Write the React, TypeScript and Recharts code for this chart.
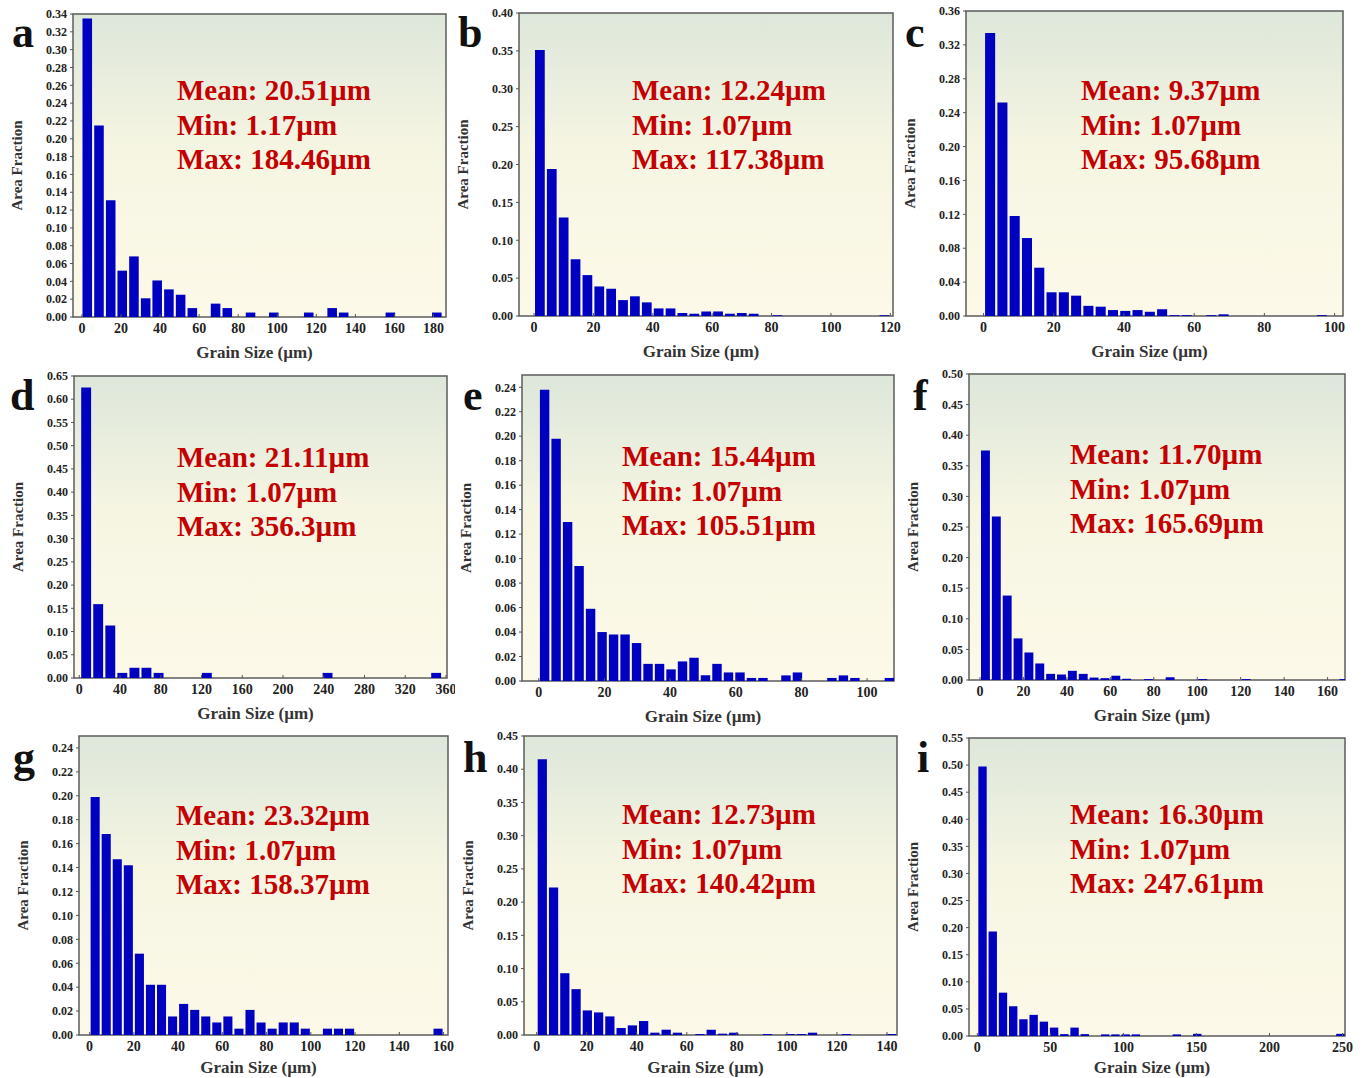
import React from 'react';
import { BarChart, Bar, XAxis, YAxis, CartesianGrid, ReferenceArea } from 'recharts';

// grain-size histograms: bin centre (µm) and area fraction of each non-empty bin
const aSize = [2.7, 8.7, 14.7, 20.6, 26.6, 32.6, 38.5, 44.5, 50.5, 56.5, 68.4, 74.4, 86.3, 98.2, 116.1, 128.1, 134.0, 157.9, 181.7];
const aFrac = [0.335, 0.215, 0.131, 0.052, 0.068, 0.021, 0.041, 0.031, 0.025, 0.010, 0.015, 0.010, 0.005, 0.005, 0.005, 0.010, 0.005, 0.005, 0.005];

const bSize = [2, 6, 10, 14, 18, 22, 26, 30, 34, 38, 42, 46, 50, 54, 58, 62, 66, 70, 74, 82, 118];
const bFrac = [0.351, 0.194, 0.130, 0.075, 0.054, 0.039, 0.036, 0.021, 0.026, 0.018, 0.010, 0.010, 0.004, 0.003, 0.006, 0.006, 0.003, 0.004, 0.003, 0.001, 0.001];

const cSize = [1.9, 5.4, 8.9, 12.4, 15.9, 19.4, 22.9, 26.4, 29.9, 33.4, 36.9, 40.4, 43.9, 47.4, 50.9, 54.4, 57.9, 64.9, 68.4, 96.4];
const cFrac = [0.334, 0.252, 0.118, 0.092, 0.057, 0.028, 0.028, 0.024, 0.012, 0.011, 0.007, 0.006, 0.007, 0.005, 0.008, 0.001, 0.001, 0.001, 0.002, 0.001];

const dSize = [6.8, 18.6, 30.5, 42.3, 54.2, 66.0, 77.9, 125.3, 243.8, 350.4];
const dFrac = [0.625, 0.159, 0.113, 0.011, 0.022, 0.022, 0.011, 0.011, 0.011, 0.011];

const eSize = [1.8, 5.3, 8.8, 12.3, 15.8, 19.3, 22.8, 26.3, 29.8, 33.3, 36.8, 40.3, 43.8, 47.3, 50.8, 54.3, 57.8, 61.3, 64.8, 68.3, 75.3, 78.8, 89.3, 92.8, 96.3, 106.8];
const eFrac = [0.238, 0.198, 0.130, 0.094, 0.059, 0.040, 0.038, 0.038, 0.031, 0.014, 0.014, 0.0095, 0.016, 0.019, 0.0046, 0.014, 0.007, 0.007, 0.0025, 0.0025, 0.0046, 0.007, 0.0025, 0.0046, 0.0025, 0.0025];

const fSize = [2.5, 7.5, 12.5, 17.5, 22.5, 27.5, 32.5, 37.5, 42.5, 47.5, 52.5, 57.5, 62.5, 67.5, 77.5, 87.5, 102.5, 122.5, 167.5];
const fFrac = [0.375, 0.267, 0.138, 0.068, 0.045, 0.027, 0.010, 0.009, 0.015, 0.010, 0.004, 0.003, 0.007, 0.002, 0.0015, 0.0045, 0.0015, 0.0015, 0.0015];

const gSize = [2.5, 7.5, 12.5, 17.5, 22.5, 27.5, 32.5, 37.5, 42.5, 47.5, 52.5, 57.5, 62.5, 67.5, 72.5, 77.5, 82.5, 87.5, 92.5, 97.5, 107.5, 112.5, 117.5, 157.5];
const gFrac = [0.199, 0.168, 0.147, 0.142, 0.068, 0.042, 0.042, 0.0155, 0.026, 0.021, 0.0155, 0.0105, 0.0155, 0.0053, 0.021, 0.0105, 0.0053, 0.0105, 0.0105, 0.0053, 0.0053, 0.0053, 0.0053, 0.0053];

const hSize = [2.25, 6.75, 11.25, 15.75, 20.25, 24.75, 29.25, 33.75, 38.25, 42.75, 47.25, 51.75, 56.25, 65.25, 69.75, 74.25, 78.75, 92.25, 101.25, 105.75, 110.25, 123.75, 141.75];
const hFrac = [0.415, 0.222, 0.093, 0.069, 0.037, 0.034, 0.028, 0.0105, 0.0145, 0.021, 0.0035, 0.008, 0.0035, 0.0015, 0.008, 0.002, 0.0035, 0.0015, 0.0015, 0.0015, 0.0035, 0.0015, 0.0015];

const iSize = [3.5, 10.5, 17.5, 24.5, 31.5, 38.5, 45.5, 52.5, 59.5, 66.5, 73.5, 87.5, 94.5, 101.5, 108.5, 136.5, 150.5, 248.5];
const iFrac = [0.4975, 0.193, 0.080, 0.055, 0.031, 0.039, 0.0265, 0.0155, 0.0035, 0.0155, 0.0035, 0.003, 0.003, 0.003, 0.003, 0.003, 0.004, 0.004];

// axis ticks
const aXTicks = [0, 20, 40, 60, 80, 100, 120, 140, 160, 180];
const aYTicks = [0, 0.02, 0.04, 0.06, 0.08, 0.1, 0.12, 0.14, 0.16, 0.18, 0.2, 0.22, 0.24, 0.26, 0.28, 0.3, 0.32, 0.34];
const bXTicks = [0, 20, 40, 60, 80, 100, 120];
const bYTicks = [0, 0.05, 0.1, 0.15, 0.2, 0.25, 0.3, 0.35, 0.4];
const cXTicks = [0, 20, 40, 60, 80, 100];
const cYTicks = [0, 0.04, 0.08, 0.12, 0.16, 0.2, 0.24, 0.28, 0.32, 0.36];
const dXTicks = [0, 40, 80, 120, 160, 200, 240, 280, 320, 360];
const dYTicks = [0, 0.05, 0.1, 0.15, 0.2, 0.25, 0.3, 0.35, 0.4, 0.45, 0.5, 0.55, 0.6, 0.65];
const eXTicks = [0, 20, 40, 60, 80, 100];
const eYTicks = [0, 0.02, 0.04, 0.06, 0.08, 0.1, 0.12, 0.14, 0.16, 0.18, 0.2, 0.22, 0.24];
const fXTicks = [0, 20, 40, 60, 80, 100, 120, 140, 160];
const fYTicks = [0, 0.05, 0.1, 0.15, 0.2, 0.25, 0.3, 0.35, 0.4, 0.45, 0.5];
const gXTicks = [0, 20, 40, 60, 80, 100, 120, 140, 160];
const gYTicks = [0, 0.02, 0.04, 0.06, 0.08, 0.1, 0.12, 0.14, 0.16, 0.18, 0.2, 0.22, 0.24];
const hXTicks = [0, 20, 40, 60, 80, 100, 120, 140];
const hYTicks = [0, 0.05, 0.1, 0.15, 0.2, 0.25, 0.3, 0.35, 0.4, 0.45];
const iXTicks = [0, 50, 100, 150, 200, 250];
const iYTicks = [0, 0.05, 0.1, 0.15, 0.2, 0.25, 0.3, 0.35, 0.4, 0.45, 0.5, 0.55];

const aStats = ['Mean: 20.51µm', 'Min: 1.17µm', 'Max: 184.46µm'];
const bStats = ['Mean: 12.24µm', 'Min: 1.07µm', 'Max: 117.38µm'];
const cStats = ['Mean: 9.37µm', 'Min: 1.07µm', 'Max: 95.68µm'];
const dStats = ['Mean: 21.11µm', 'Min: 1.07µm', 'Max: 356.3µm'];
const eStats = ['Mean: 15.44µm', 'Min: 1.07µm', 'Max: 105.51µm'];
const fStats = ['Mean: 11.70µm', 'Min: 1.07µm', 'Max: 165.69µm'];
const gStats = ['Mean: 23.32µm', 'Min: 1.07µm', 'Max: 158.37µm'];
const hStats = ['Mean: 12.73µm', 'Min: 1.07µm', 'Max: 140.42µm'];
const iStats = ['Mean: 16.30µm', 'Min: 1.07µm', 'Max: 247.61µm'];

const SERIF = '"Liberation Serif", "Times New Roman", serif';
const PAGE_H = 1078;

type PanelDef = {
  id: string;
  size: number[];
  frac: number[];
  bin: number;
  xDomain: [number, number];
  yMax: number;
  xTicks: number[];
  yTicks: number[];
  stats: string[];
  box: { l: number; r: number; t: number; b: number };
  text: { x: number; y: number };
  letter: { x: number; y: number };
};

const panels: PanelDef[] = [
  { id: 'a', size: aSize, frac: aFrac, bin: 5.97, xDomain: [-4.6, 186.4], yMax: 0.34, xTicks: aXTicks, yTicks: aYTicks, stats: aStats,
    box: { l: 73, r: 446, t: 14, b: 317 }, text: { x: 177, y: 100 }, letter: { x: 12, y: 47 } },
  { id: 'b', size: bSize, frac: bFrac, bin: 4, xDomain: [-5.06, 120.9], yMax: 0.4, xTicks: bXTicks, yTicks: bYTicks, stats: bStats,
    box: { l: 519, r: 893, t: 13, b: 316 }, text: { x: 632, y: 100 }, letter: { x: 458, y: 47 } },
  { id: 'c', size: cSize, frac: cFrac, bin: 3.5, xDomain: [-5.0, 102.4], yMax: 0.36, xTicks: cXTicks, yTicks: cYTicks, stats: cStats,
    box: { l: 966, r: 1343, t: 11, b: 316 }, text: { x: 1081, y: 100 }, letter: { x: 905, y: 47 } },
  { id: 'd', size: dSize, frac: dFrac, bin: 11.84, xDomain: [-5.2, 361], yMax: 0.65, xTicks: dXTicks, yTicks: dYTicks, stats: dStats,
    box: { l: 74, r: 447, t: 376, b: 678 }, text: { x: 177, y: 467 }, letter: { x: 10, y: 410 } },
  { id: 'e', size: eSize, frac: eFrac, bin: 3.5, xDomain: [-5.1, 108.2], yMax: 0.25, xTicks: eXTicks, yTicks: eYTicks, stats: eStats,
    box: { l: 522, r: 894, t: 375, b: 681 }, text: { x: 622, y: 466 }, letter: { x: 463, y: 410 } },
  { id: 'f', size: fSize, frac: fFrac, bin: 5, xDomain: [-5.06, 168], yMax: 0.5, xTicks: fXTicks, yTicks: fYTicks, stats: fStats,
    box: { l: 969, r: 1345, t: 374, b: 680 }, text: { x: 1070, y: 464 }, letter: { x: 913, y: 410 } },
  { id: 'g', size: gSize, frac: gFrac, bin: 5, xDomain: [-4.8, 162], yMax: 0.25, xTicks: gXTicks, yTicks: gYTicks, stats: gStats,
    box: { l: 79, r: 448, t: 736, b: 1035 }, text: { x: 176, y: 825 }, letter: { x: 13, y: 772 } },
  { id: 'h', size: hSize, frac: hFrac, bin: 4.5, xDomain: [-5.07, 144], yMax: 0.45, xTicks: hXTicks, yTicks: hYTicks, stats: hStats,
    box: { l: 524, r: 897, t: 736, b: 1035 }, text: { x: 622, y: 824 }, letter: { x: 463, y: 772 } },
  { id: 'i', size: iSize, frac: iFrac, bin: 7, xDomain: [-5.7, 251.7], yMax: 0.55, xTicks: iXTicks, yTicks: iYTicks, stats: iStats,
    box: { l: 969, r: 1345, t: 738, b: 1036 }, text: { x: 1070, y: 824 }, letter: { x: 917, y: 772 } },
];

const ML = 70;
const MT = 10;
const MR = 8;
const XH = 50;

const Panel = ({ p }: { p: PanelDef }) => {
  const plotW = p.box.r - p.box.l;
  const plotH = p.box.b - p.box.t;
  const data = p.size.map((s, i) => ({ size: s, frac: p.frac[i] }));
  const pxPerUnit = plotW / (p.xDomain[1] - p.xDomain[0]);
  const barSize = p.bin * pxPerUnit * 0.82;
  const gradId = `bg-${p.id}`;
  // keep the bottom row's axis title inside the page
  const titleGap = Math.min(41, PAGE_H - 5 - p.box.b);

  return (
    <div style={{ position: 'absolute', left: p.box.l - ML, top: p.box.t - MT }}>
      <BarChart
        width={plotW + ML + MR}
        height={plotH + MT + XH}
        data={data}
        margin={{ top: MT, right: MR, left: 0, bottom: 0 }}
      >
        <defs>
          <linearGradient id={gradId} x1="0" y1="0" x2="0" y2="1">
            <stop offset="0%" stopColor="#dde7da" />
            <stop offset="45%" stopColor="#f6f5e2" />
            <stop offset="100%" stopColor="#fdf9e8" />
          </linearGradient>
        </defs>
        <CartesianGrid horizontal={false} vertical={false} fill={`url(#${gradId})`} />
        <XAxis
          type="number"
          dataKey="size"
          domain={p.xDomain}
          allowDataOverflow
          ticks={p.xTicks}
          interval={0}
          height={XH}
          axisLine={false}
          tickSize={-3}
          tickMargin={9}
          tickLine={{ stroke: '#555' }}
          tick={{ fill: '#222', fontSize: 14, fontWeight: 'bold', fontFamily: SERIF }}
          label={{
            content: () => (
              <text
                x={ML + plotW / 2 - 5}
                y={MT + plotH + titleGap}
                textAnchor="middle"
                fill="#333"
                fontSize={17}
                fontWeight="bold"
                fontFamily={SERIF}
              >
                Grain Size (µm)
              </text>
            ),
          }}
        />
        <YAxis
          type="number"
          domain={[0, p.yMax]}
          allowDataOverflow
          ticks={p.yTicks}
          interval={0}
          width={ML}
          axisLine={false}
          tickSize={3}
          tickMargin={3}
          tickLine={{ stroke: '#555' }}
          tickFormatter={(v: number) => v.toFixed(2)}
          tick={{ fill: '#222', fontSize: 12, fontWeight: 'bold', fontFamily: SERIF }}
          label={{
            content: () => (
              <text
                x={ML - 56}
                y={MT + plotH / 2}
                transform={`rotate(-90 ${ML - 56} ${MT + plotH / 2})`}
                textAnchor="middle"
                dominantBaseline="central"
                fill="#333"
                fontSize={15}
                fontWeight="bold"
                fontFamily={SERIF}
              >
                Area Fraction
              </text>
            ),
          }}
        />
        <Bar dataKey="frac" fill="#0000c0" barSize={barSize} isAnimationActive={false} />
        <ReferenceArea
          x1={p.xDomain[0]}
          x2={p.xDomain[1]}
          y1={0}
          y2={p.yMax}
          ifOverflow="visible"
          fill="none"
          stroke="#5c5c5c"
          strokeWidth={1.5}
        />
      </BarChart>
    </div>
  );
};

export default function App() {
  return (
    <div style={{ position: 'absolute', left: 0, top: 0, width: 1362, height: PAGE_H, background: '#fff', overflow: 'hidden' }}>
      {panels.map(p => (
        <Panel key={p.id} p={p} />
      ))}
      <svg
        width={1362}
        height={PAGE_H}
        style={{ position: 'absolute', left: 0, top: 0, pointerEvents: 'none' }}
      >
        {panels.map(p => (
          <g key={p.id}>
            <text x={p.letter.x} y={p.letter.y} fontSize={44} fontWeight="bold" fontFamily={SERIF} fill="#111">
              {p.id}
            </text>
            {p.stats.map((s, i) => (
              <text
                key={s}
                x={p.text.x}
                y={p.text.y + i * 34.5}
                fontSize={29}
                fontWeight="bold"
                fontFamily={SERIF}
                fill="#c40000"
              >
                {s}
              </text>
            ))}
          </g>
        ))}
      </svg>
    </div>
  );
}
